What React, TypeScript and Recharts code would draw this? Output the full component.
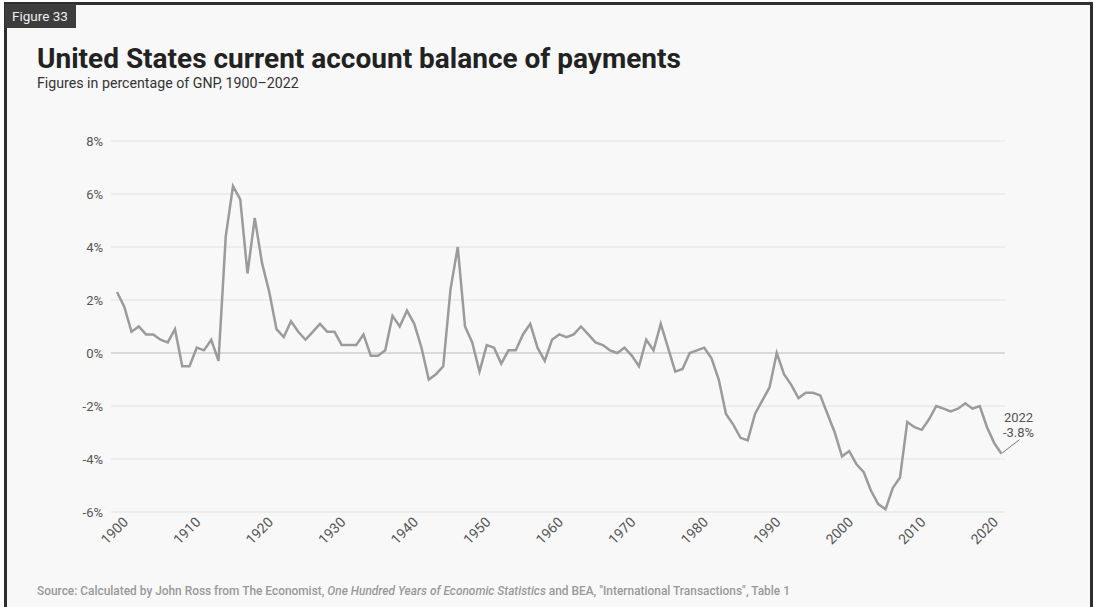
import React from 'react';
import { LineChart, Line, XAxis, YAxis, CartesianGrid, ReferenceLine } from 'recharts';

const years = [
  1900, 1901, 1902, 1903, 1904, 1905, 1906, 1907, 1908, 1909,
  1910, 1911, 1912, 1913, 1914, 1915, 1916, 1917, 1918, 1919,
  1920, 1921, 1922, 1923, 1924, 1925, 1926, 1927, 1928, 1929,
  1930, 1931, 1932, 1933, 1934, 1935, 1936, 1937, 1938, 1939,
  1940, 1941, 1942, 1943, 1944, 1945, 1946, 1947, 1948, 1949,
  1950, 1951, 1952, 1953, 1954, 1955, 1956, 1957, 1958, 1959,
  1960, 1961, 1962, 1963, 1964, 1965, 1966, 1967, 1968, 1969,
  1970, 1971, 1972, 1973, 1974, 1975, 1976, 1977, 1978, 1979,
  1980, 1981, 1982, 1983, 1984, 1985, 1986, 1987, 1988, 1989,
  1990, 1991, 1992, 1993, 1994, 1995, 1996, 1997, 1998, 1999,
  2000, 2001, 2002, 2003, 2004, 2005, 2006, 2007, 2008, 2009,
  2010, 2011, 2012, 2013, 2014, 2015, 2016, 2017, 2018, 2019,
  2020, 2021, 2022,
];

// current account balance, % of GNP
const balance = [
  2.3, 1.75, 0.8, 1.0, 0.7, 0.7, 0.5, 0.4, 0.9, -0.5,
  -0.5, 0.2, 0.1, 0.5, -0.3, 4.4, 6.3, 5.8, 3.0, 5.1,
  3.4, 2.3, 0.9, 0.6, 1.2, 0.8, 0.5, 0.8, 1.1, 0.8,
  0.8, 0.3, 0.3, 0.3, 0.7, -0.1, -0.1, 0.1, 1.4, 1.0,
  1.6, 1.1, 0.2, -1.0, -0.8, -0.5, 2.4, 4.0, 1.0, 0.4,
  -0.7, 0.3, 0.2, -0.4, 0.1, 0.1, 0.7, 1.1, 0.2, -0.3,
  0.5, 0.7, 0.6, 0.7, 1.0, 0.7, 0.4, 0.3, 0.1, 0.0,
  0.2, -0.1, -0.5, 0.5, 0.1, 1.1, 0.2, -0.7, -0.6, 0.0,
  0.1, 0.2, -0.2, -1.0, -2.3, -2.7, -3.2, -3.3, -2.3, -1.8,
  -1.3, 0.0, -0.8, -1.2, -1.7, -1.5, -1.5, -1.6, -2.3, -3.0,
  -3.9, -3.7, -4.2, -4.5, -5.2, -5.7, -5.9, -5.1, -4.7, -2.6,
  -2.8, -2.9, -2.5, -2.0, -2.1, -2.2, -2.1, -1.9, -2.1, -2.0,
  -2.8, -3.4, -3.8,
];

const xTicks = [1900, 1910, 1920, 1930, 1940, 1950, 1960, 1970, 1980, 1990, 2000, 2010, 2020];
const yTicks = [-6, -4, -2, 0, 2, 4, 6, 8];

const data = years.map((year, i) => ({ year, value: balance[i] }));

const font = 'Roboto, "Noto Sans", sans-serif';

const XTick = (props: any) => {
  const { x, y, payload } = props;
  const px = x + 12;
  const py = y + 3;
  return (
    <text
      x={px}
      y={py}
      transform={`rotate(-45 ${px} ${py})`}
      textAnchor="end"
      fill="#555"
      fontSize={14}
      fontFamily={font}
    >
      {payload.value}
    </text>
  );
};

const EndLabel = (props: any) => {
  const { x, y, index } = props;
  if (index !== years.length - 1) return null;
  const last = balance[balance.length - 1];
  return (
    <g>
      <line x1={x + 1} y1={y - 1} x2={x + 18} y2={y - 14} stroke="#777" strokeWidth={1} />
      <text x={x + 17} y={y - 32} textAnchor="middle" fill="#555" fontSize={13} fontFamily={font}>
        {years[years.length - 1]}
      </text>
      <text x={x + 17} y={y - 17} textAnchor="middle" fill="#555" fontSize={13} fontFamily={font}>
        {last.toFixed(1)}%
      </text>
    </g>
  );
};

export default function App() {
  return (
    <div
      style={{
        position: 'absolute',
        left: 0,
        top: 0,
        width: 1100,
        height: 607,
        overflow: 'hidden',
        background: '#fff',
        fontFamily: font,
      }}
    >
      <div
        style={{
          position: 'absolute',
          left: 4,
          top: 2,
          width: 1089,
          height: 640,
          boxSizing: 'border-box',
          border: '3px solid #2e2e2e',
          background: '#f8f8f8',
        }}
      />
      <div
        style={{
          position: 'absolute',
          left: 5,
          top: 4,
          height: 24,
          background: '#3d3d3d',
          color: '#eee',
          fontSize: 13.5,
          lineHeight: '24px',
          padding: '0 8px 0 7px',
          whiteSpace: 'nowrap',
        }}
      >
        Figure 33
      </div>
      <div
        style={{
          position: 'absolute',
          left: 37,
          top: 42,
          fontSize: 28,
          fontWeight: 700,
          color: '#222',
          whiteSpace: 'nowrap',
        }}
      >
        United States current account balance of payments
      </div>
      <div
        style={{
          position: 'absolute',
          left: 37,
          top: 75,
          fontSize: 14.2,
          color: '#333',
          whiteSpace: 'nowrap',
        }}
      >
        Figures in percentage of GNP, 1900–2022
      </div>

      <div style={{ position: 'absolute', left: 0, top: 0 }}>
        <LineChart
          width={1100}
          height={607}
          data={data}
          margin={{ top: 141, right: 95, bottom: 0, left: 0 }}
        >
          <CartesianGrid vertical={false} stroke="#e2e2e2" />
          <ReferenceLine y={0} stroke="#c6c6c6" />
          <XAxis
            dataKey="year"
            type="number"
            domain={[1900, 2022]}
            ticks={xTicks}
            padding={{ left: 6, right: 3.5 }}
            axisLine={false}
            tickLine={false}
            height={95}
            interval={0}
            tick={<XTick />}
          />
          <YAxis
            type="number"
            domain={[-6, 8]}
            ticks={yTicks}
            width={111}
            axisLine={false}
            tickLine={false}
            tickFormatter={(v: number) => `${v}%`}
            tick={{ fill: '#555', fontSize: 13, fontFamily: font }}
          />
          <Line
            type="linear"
            dataKey="value"
            stroke="#9b9b9b"
            strokeWidth={2.5}
            dot={false}
            isAnimationActive={false}
            label={<EndLabel />}
          />
        </LineChart>
      </div>

      <div
        style={{
          position: 'absolute',
          left: 37,
          top: 584,
          fontSize: 11.9,
          fontWeight: 500,
          color: '#999',
          whiteSpace: 'nowrap',
        }}
      >
        Source: Calculated by John Ross from The Economist, <i>One Hundred Years of Economic Statistics</i> and BEA,
        "International Transactions", Table 1
      </div>
    </div>
  );
}
